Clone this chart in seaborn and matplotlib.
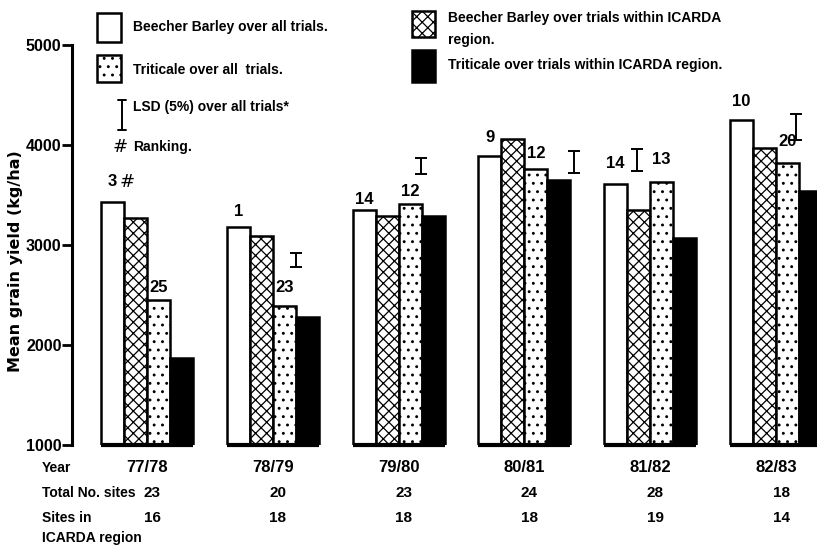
import matplotlib
matplotlib.use("Agg")
import matplotlib.pyplot as plt
import matplotlib.transforms as mtransforms
from matplotlib.patches import Rectangle
from matplotlib.lines import Line2D
import pandas as pd
import seaborn as sns

# ---- data -------------------------------------------------------------
years = ["77/78", "78/79", "79/80", "80/81", "81/82", "82/83"]
barley_all = [3430, 3180, 3350, 3890, 3610, 4250]
barley_icarda = [3270, 3090, 3290, 4060, 3350, 3970]
triticale_all = [2450, 2390, 3410, 3760, 3630, 3820]
triticale_icarda = [1870, 2280, 3290, 3650, 3070, 3540]

rank_barley = ["3", "1", "14", "9", "14", "10"]
rank_triticale = ["25", "23", "12", "12", "13", "20"]

lsd_years = ["78/79", "79/80", "80/81", "81/82", "82/83"]
lsd_values = [140, 160, 220, 220, 260]

total_sites = ["23", "20", "23", "24", "28", "18"]
icarda_sites = ["16", "18", "18", "18", "19", "14"]

series_names = [
    "Beecher Barley over all trials.",
    "Beecher Barley over trials within ICARDA region.",
    "Triticale over all  trials.",
    "Triticale over trials within ICARDA region.",
]

# ---- layout / style ---------------------------------------------------
W, H = 817, 548
SANS = ["Liberation Sans", "DejaVu Sans"]

sns.set_theme(style="white")
plt.rcParams["font.family"] = SANS
plt.rcParams["font.weight"] = "bold"
plt.rcParams["text.color"] = "black"
plt.rcParams["axes.labelcolor"] = "black"
plt.rcParams["ytick.color"] = "black"
plt.rcParams["hatch.linewidth"] = 0.9
plt.rcParams["hatch.color"] = "black"

fills = ["white", "white", "white", "black"]
hatches = ["", "xxx", "..", ""]
group_width = 0.73

# offsets (pixels) of ranking numbers above their bars
rank_barley_off = [20, 15, 10, 18, 21, 18]
rank_triticale_off = [13, 18, 12, 15, 22, 21]
# horizontal offset from group centre and mid-height of each LSD bar
lsd_dx = [0.188, 0.182, 0.398, -0.101, 0.163]
lsd_mid = [2850, 3790, 3830, 3850, 4180]


def P(x, y):
    """figure pixel (from top-left) -> figure fraction"""
    return x / W, 1 - y / H


records = []
for name, vals in zip(series_names, [barley_all, barley_icarda, triticale_all, triticale_icarda]):
    for yr, v in zip(years, vals):
        records.append({"year": yr, "series": name, "yield": v})
df = pd.DataFrame(records)

fig = plt.figure(figsize=(W / 100, H / 100), dpi=100)
ax = fig.add_axes([72 / W, (H - 445) / H, (W - 72) / W, 400 / H])

sns.barplot(
    data=df, x="year", y="yield", hue="series", order=years, hue_order=series_names,
    palette=fills, width=group_width, edgecolor="black", linewidth=1.8,
    saturation=1, legend=False, errorbar=None, ax=ax,
)
for cont, hatch in zip(ax.containers, hatches):
    for bar in cont:
        bar.set_hatch(hatch)

ax.set_ylim(1000, 5000)
ax.set_xlim(-0.596, 5.326)
ax.set_yticks([1000, 2000, 3000, 4000, 5000])
ax.set_xticks([])
ax.set_xlabel("")
ax.set_ylabel("")
for s in ["top", "right", "bottom"]:
    ax.spines[s].set_visible(False)
ax.spines["left"].set_linewidth(2.2)
ax.spines["left"].set_color("black")
ax.tick_params(axis="y", direction="out", length=7, width=2, pad=0.5, left=True,
               colors="black")
for lab in ax.get_yticklabels():
    lab.set_fontsize(11.5)
    lab.set_fontweight("bold")

# baseline under each group of bars
bar_w = group_width / 4
for i in range(len(years)):
    ax.hlines(1000, i - group_width / 2, i + group_width / 2, colors="black",
              linewidth=3, clip_on=False)

# ranking numbers above bars
bar_x = {name: [i + (k - 1.5) * bar_w for i in range(len(years))]
         for k, name in enumerate(series_names)}
for i in range(len(years)):
    ax.annotate(rank_barley[i], (bar_x[series_names[0]][i], barley_all[i]),
                xytext=(0, rank_barley_off[i] * 0.72), textcoords="offset points",
                ha="center", va="center", fontsize=12, fontweight="bold")
    ax.annotate(rank_triticale[i], (bar_x[series_names[2]][i], triticale_all[i]),
                xytext=(0, rank_triticale_off[i] * 0.72), textcoords="offset points",
                ha="center", va="center", fontsize=12, fontweight="bold")
ax.annotate("#", (bar_x[series_names[0]][0], barley_all[0]),
            xytext=(15 * 0.72, rank_barley_off[0] * 0.72), textcoords="offset points",
            ha="center", va="center", fontsize=13, fontstyle="italic", fontweight="normal",
            family=["DejaVu Sans"])

# LSD bars
lsd_x = [years.index(y) + d for y, d in zip(lsd_years, lsd_dx)]
ax.errorbar(lsd_x, lsd_mid, yerr=[v / 2 for v in lsd_values], fmt="none",
            ecolor="black", elinewidth=1.4, capsize=4.5, capthick=1.4, clip_on=False)

# legend block
def legend_box(x0, y0, x1, y1, face, hatch):
    fx0, fy1 = P(x0, y0)
    fx1, fy0 = P(x1, y1)
    fig.add_artist(Rectangle((fx0, fy0), fx1 - fx0, fy1 - fy0, transform=fig.transFigure,
                             facecolor=face, edgecolor="black", linewidth=1.8, hatch=hatch))

legend_box(97, 13, 121, 42, "white", "")
legend_box(97, 55, 121, 82, "white", "..")
legend_box(412, 11, 435, 37, "white", "xxx")
legend_box(412, 50, 435, 82, "black", "")

lx = 122
for seg in [((lx, 100), (lx, 130)), ((lx - 4, 100), (lx + 4, 100)), ((lx - 4, 130), (lx + 4, 130))]:
    (xa, ya), (xb, yb) = seg
    fa, fb = P(xa, ya), P(xb, yb)
    fig.add_artist(Line2D([fa[0], fb[0]], [fa[1], fb[1]], transform=fig.transFigure,
                          color="black", linewidth=1.4))
fig.text(*P(120, 147), "#", ha="center", va="center", fontsize=13, fontstyle="italic",
         fontweight="normal", family=["DejaVu Sans"])

leg_fs = 10
fig.text(*P(133, 27), series_names[0], ha="left", va="center", fontsize=leg_fs)
fig.text(*P(133, 70), series_names[2], ha="left", va="center", fontsize=leg_fs)
fig.text(*P(133, 107), "LSD (5%) over all trials*", ha="left", va="center", fontsize=leg_fs)
fig.text(*P(133, 147), "Ranking.", ha="left", va="center", fontsize=leg_fs)
fig.text(*P(448, 18), "Beecher Barley over trials within ICARDA", ha="left", va="center",
         fontsize=leg_fs)
fig.text(*P(448, 40), "region.", ha="left", va="center", fontsize=leg_fs)
fig.text(*P(448, 65), series_names[3], ha="left", va="center", fontsize=leg_fs)

# y-axis title
fig.text(*P(16, 261), "Mean grain yield (kg/ha)", rotation=90, ha="center", va="center",
         fontsize=11.5, fontweight="bold", family=["DejaVu Sans"])

# table of years and site counts under the bars
row_y = {"Year": 468, "Total No. sites": 493, "Sites in": 518}
for label, yy in row_y.items():
    fig.text(*P(42, yy), label, ha="left", va="center", fontsize=10)
fig.text(*P(42, 538), "ICARDA region", ha="left", va="center", fontsize=10)

trans = mtransforms.blended_transform_factory(ax.transData, fig.transFigure)
for i in range(len(years)):
    ax.text(i, 1 - 468 / H, years[i], transform=trans, ha="center", va="center", fontsize=12)
    ax.text(i + 0.04, 1 - 493 / H, total_sites[i], transform=trans, ha="center", va="center",
            fontsize=11)
    ax.text(i + 0.04, 1 - 518 / H, icarda_sites[i], transform=trans, ha="center", va="center",
            fontsize=11)

fig.savefig("out.png", dpi=100)
